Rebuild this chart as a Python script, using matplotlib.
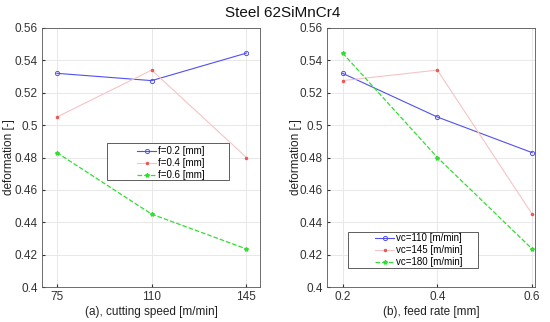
import matplotlib
matplotlib.use("Agg")
import matplotlib.pyplot as plt
from matplotlib.patches import Rectangle

plt.rcParams['font.family'] = ['Liberation Sans', 'DejaVu Sans']

speed = [75, 110, 145]
feed = [0.2, 0.4, 0.6]
f02 = [0.532, 0.5275, 0.5445]
f04 = [0.505, 0.534, 0.480]
f06 = [0.483, 0.445, 0.4235]
vc110 = [0.532, 0.505, 0.483]
vc145 = [0.5275, 0.534, 0.445]
vc180 = [0.5445, 0.480, 0.4235]
yticks = [0.4, 0.42, 0.44, 0.46, 0.48, 0.5, 0.52, 0.54, 0.56]
ytick_labels = ['0.4', '0.42', '0.44', '0.46', '0.48', '0.5', '0.52', '0.54', '0.56']

fig = plt.figure(figsize=(5.5, 3.22), dpi=100)
W, H = 550, 322
axL = fig.add_axes([42 / W, 1 - 287 / H, 218 / W, 259 / H])
axR = fig.add_axes([327 / W, 1 - 287 / H, 208 / W, 259 / H])

blue = '#5050f0'
red = '#f6c4c4'
red_m = '#ee5555'
green = '#33dd33'

def style(ax, labelx):
    ax.set_ylim(0.4, 0.56)
    ax.set_yticks(yticks)
    ax.set_yticklabels(ytick_labels)
    ax.grid(True, color='#e8e8e8', linewidth=0.7)
    ax.set_axisbelow(True)
    ax.tick_params(labelsize=8.5, colors='#333333', length=2, direction='in', pad=3)
    for s in ax.spines.values():
        s.set_color('#555555')
        s.set_linewidth(0.6)
    ax.set_ylabel('deformation [-]', fontsize=8.5, color='#222222')
    ax.yaxis.set_label_coords(labelx, 0.5)

def framed_legend(ax, box, anchor):
    leg = ax.legend(loc='center left', bbox_to_anchor=(anchor[0] / W, 1 - anchor[1] / H),
                    bbox_transform=fig.transFigure, fontsize=7, frameon=False,
                    handlelength=2.0, borderpad=0, labelspacing=0.2, handletextpad=0.15,
                    borderaxespad=0)
    leg.set_zorder(6)
    x0, y0, x1, y1 = box
    ax.add_patch(Rectangle((x0 / W, 1 - y1 / H), (x1 - x0) / W, (y1 - y0) / H,
                           transform=fig.transFigure, facecolor='white',
                           edgecolor='#444444', linewidth=0.6, zorder=4, clip_on=False))
    return leg

axL.plot(speed, f02, '-o', color=blue, lw=0.8, ms=3, mfc='none', mew=0.7, label='f=0.2 [mm]')
axL.plot(speed, f04, '-', color=red, lw=0.8, marker='.', ms=3, mec=red_m, mfc=red_m, label='f=0.4 [mm]')
axL.plot(speed, f06, '--', color=green, lw=0.9, marker='*', ms=3, label='f=0.6 [mm]')
axL.set_xlim(69.5, 150)
axL.set_xticks(speed)
axL.set_xlabel('(a), cutting speed [m/min]', fontsize=8.5, color='#222222', labelpad=2)
style(axL, (15 - 42) / 218)

axR.plot(feed, vc110, '-o', color=blue, lw=0.8, ms=3, mfc='none', mew=0.7, label='vc=110 [m/min]')
axR.plot(feed, vc145, '-', color=red, lw=0.8, marker='.', ms=3, mec=red_m, mfc=red_m, label='vc=145 [m/min]')
axR.plot(feed, vc180, '--', color=green, lw=0.9, marker='*', ms=3, label='vc=180 [m/min]')
axR.set_xlim(0.167, 0.606)
axR.set_xticks(feed)
axR.set_xticklabels(['0.2', '0.4', '0.6'])
axR.set_xlabel('(b), feed rate [mm]', fontsize=8.5, color='#222222', labelpad=2)
style(axR, (302 - 327) / 208)

framed_legend(axL, (107, 143, 229, 180), (137, 163))
framed_legend(axR, (348, 232, 478, 268), (375, 250))

fig.text(283 / W, 1 - 13 / H, 'Steel 62SiMnCr4', ha='center', va='center', fontsize=11, color='#111111')

fig.savefig('out.png', dpi=100)
